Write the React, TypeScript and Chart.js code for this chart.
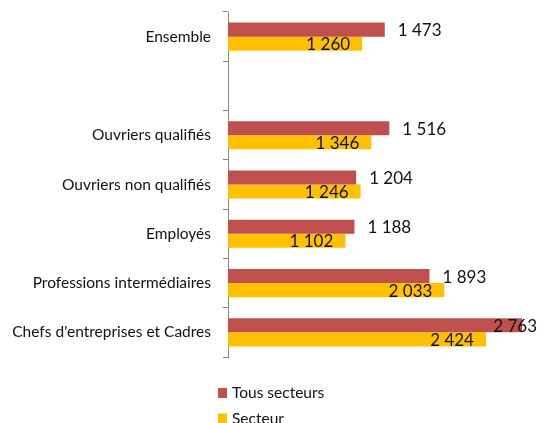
import React, { useEffect, useRef } from "react";
import { Chart, registerables } from "chart.js";

Chart.register(...registerables);

const categories = [
  "Ensemble",
  "",
  "Ouvriers qualifiés",
  "Ouvriers non qualifiés",
  "Employés",
  "Professions intermédiaires",
  "Chefs d'entreprises et Cadres",
];
const tousSecteurs = [1473, null, 1516, 1204, 1188, 1893, 2763];
const secteur = [1260, null, 1346, 1246, 1102, 2033, 2424];
const seriesNames = ["Tous secteurs", "Secteur"];
const seriesColors = ["#C0504D", "#FFC000"];
const xMax = 2800;

const FONT = "Lato, 'Open Sans', sans-serif";

function fmt(v: number) {
  return String(v).replace(/\B(?=(\d{3})+(?!\d))/g, " ");
}

const labelPlugin = {
  id: "barLabels",
  afterDatasetsDraw(chart: any) {
    const ctx = chart.ctx;
    ctx.save();
    ctx.font = `17px ${FONT}`;
    ctx.fillStyle = "#111";
    ctx.textBaseline = "middle";
    ctx.textAlign = "left";
    chart.data.datasets.forEach((ds: any, di: number) => {
      const meta = chart.getDatasetMeta(di);
      meta.data.forEach((bar: any, i: number) => {
        const v = ds.data[i];
        if (v == null) return;
        const t = fmt(v);
        const w = ctx.measureText(t).width;
        let x: number;
        if (di === 0) {
          x = bar.x + 13;
          if (x + w > 537) x = 537 - w;
        } else {
          x = bar.x - 12 - w;
        }
        ctx.fillText(t, x, bar.y + 1);
      });
    });
    ctx.restore();
  },
};

const legendPlugin = {
  id: "vLegend",
  afterDraw(chart: any) {
    const ctx = chart.ctx;
    ctx.save();
    ctx.font = `15.5px ${FONT}`;
    ctx.textBaseline = "middle";
    ctx.textAlign = "left";
    chart.data.datasets.forEach((ds: any, i: number) => {
      const y = 393 + 25.5 * i;
      ctx.fillStyle = ds.backgroundColor;
      ctx.fillRect(218, y - 5, 9, 10);
      ctx.fillStyle = "#111";
      ctx.fillText(ds.label, 232, y);
    });
    ctx.restore();
  },
};

export default function App() {
  const ref = useRef<HTMLCanvasElement>(null);
  useEffect(() => {
    if (!ref.current) return;
    const chart = new Chart(ref.current, {
      type: "bar",
      data: {
        labels: categories,
        datasets: [
          {
            label: seriesNames[0],
            data: tousSecteurs,
            backgroundColor: seriesColors[0],
            categoryPercentage: 0.571,
            barPercentage: 1,
          },
          {
            label: seriesNames[1],
            data: secteur,
            backgroundColor: seriesColors[1],
            categoryPercentage: 0.571,
            barPercentage: 1,
          },
        ],
      },
      options: {
        indexAxis: "y",
        animation: false,
        responsive: false,
        maintainAspectRatio: false,
        layout: { padding: { top: 12, bottom: 66, right: 18, left: 0 } },
        plugins: {
          legend: { display: false },
          tooltip: { enabled: false },
        },
        scales: {
          x: { display: false, min: 0, max: xMax },
          y: {
            afterFit(scale: any) {
              scale.width = 228;
              scale.paddingTop = 0;
              scale.paddingBottom = 0;
            },
            grid: {
              drawOnChartArea: false,
              drawTicks: true,
              tickLength: 5,
              color: "#868686",
              offset: true,
            },
            border: { display: true, color: "#868686", width: 1 },
            ticks: {
              padding: 12,
              color: "#111",
              font: { family: FONT, size: 15.5 },
            },
          },
        },
      },
      plugins: [labelPlugin, legendPlugin],
    } as any);
    return () => chart.destroy();
  }, []);
  return (
    <div style={{ position: "fixed", left: 0, top: 0, width: 544, height: 423, background: "#fff" }}>
      <canvas ref={ref} width={544} height={423} style={{ width: 544, height: 423 }} />
    </div>
  );
}
